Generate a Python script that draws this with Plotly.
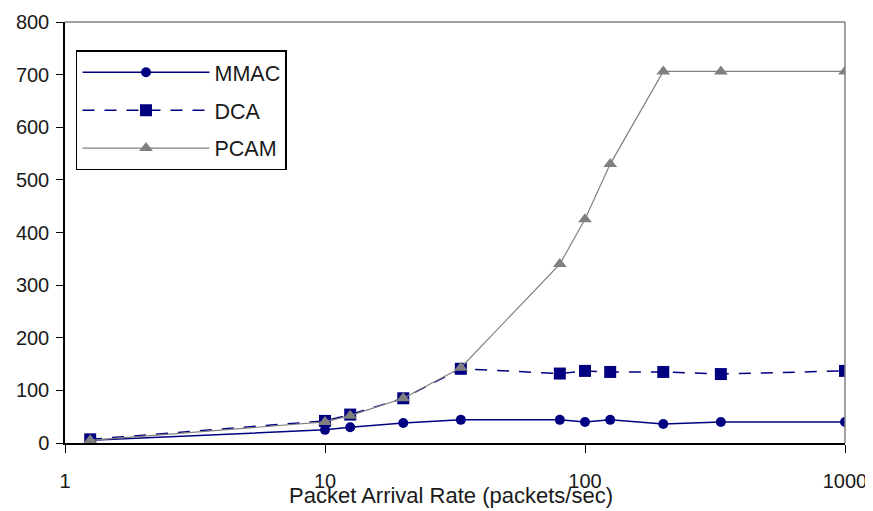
import plotly.graph_objects as go

rates = [1.25, 10, 12.5, 20, 33.3, 80, 100, 125, 200, 333, 1000]
mmac = [5, 25, 30, 38, 44, 44, 40, 44, 36, 40, 40]
dca = [7, 42, 54, 85, 141, 132, 137, 135, 135, 131, 137]
pcam = [5, 40, 52, 85, 143, 340, 425, 530, 706, 706, 706]

y_ticks = [0, 100, 200, 300, 400, 500, 600, 700, 800]
x_ticks = [1, 10, 100, 1000]
x_title = "Packet Arrival Rate (packets/sec)"

navy = "#000080"
grey = "#808080"

fig = go.Figure()
fig.add_trace(go.Scatter(x=rates, y=mmac, name="MMAC", mode="lines+markers",
                         legendgroup="a",
                         line=dict(color=navy, width=1.5),
                         marker=dict(symbol="circle", size=10, color=navy)))
fig.add_trace(go.Scatter(x=rates, y=dca, name="DCA", mode="lines+markers",
                         legendgroup="b",
                         line=dict(color=navy, width=1.5, dash="12px,10px"),
                         marker=dict(symbol="square", size=12, color=navy)))
fig.add_trace(go.Scatter(x=rates, y=pcam, name="PCAM", mode="lines+markers",
                         legendgroup="c",
                         line=dict(color=grey, width=1.2),
                         marker=dict(symbol="triangle-up", size=12, color=grey)))

font = "Liberation Sans, Arial, sans-serif"
# page body has an 8px margin, so the figure is sized to fit in the window
fig.update_layout(
    width=865, height=503,
    margin=dict(l=57, r=28, t=14, b=68, autoexpand=False),
    plot_bgcolor="white", paper_bgcolor="white",
    font=dict(family=font, size=20, color="#1a1a1a"),
    showlegend=True,
    legend=dict(x=0.0141, y=0.933, xanchor="left", yanchor="top",
                bordercolor="black", borderwidth=1.5, bgcolor="white",
                font=dict(size=21.5), itemwidth=127, tracegroupgap=7),
    xaxis=dict(type="log", range=[0, 3], tickvals=x_ticks,
               ticktext=[str(v) for v in x_ticks], automargin=False,
               showgrid=False, zeroline=False, showline=True,
               linecolor="black", linewidth=1.5, ticks="outside",
               ticklen=8, tickcolor="black", ticklabelstandoff=11),
    yaxis=dict(range=[0, 800], tickvals=y_ticks, showgrid=False,
               automargin=False,
               zeroline=False, showline=True, linecolor="black",
               linewidth=1.5, ticks="outside", ticklen=7, tickcolor="black",
               ticklabelstandoff=3),
)
fig.add_annotation(text=x_title, xref="paper", yref="paper", x=0.495, y=0,
                   yshift=-52, xanchor="center", yanchor="middle",
                   showarrow=False, font=dict(size=22))
fig.add_shape(type="line", xref="paper", yref="paper", x0=0, x1=1, y0=1, y1=1,
              line=dict(color=grey, width=1.5))
fig.add_shape(type="line", xref="paper", yref="paper", x0=1, x1=1, y0=0, y1=1,
              line=dict(color=grey, width=1.5))

fig.write_html("out.html")
